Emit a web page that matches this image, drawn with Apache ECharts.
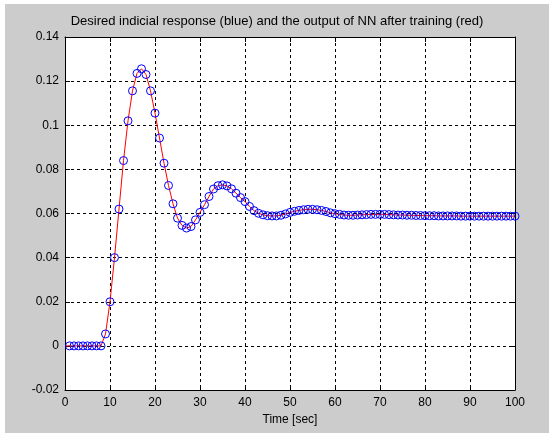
<!DOCTYPE html>
<html>
<head>
<meta charset="utf-8">
<script src="https://cdn.jsdelivr.net/npm/echarts@6/dist/echarts.min.js"></script>
<style>
html,body{margin:0;padding:0;background:#ffffff;}
#c{width:549px;height:433px;}
</style>
</head>
<body>
<div id="c"></div>
<script>
// Time samples (sec)
var times = [];
for (var i = 0; i <= 100; i++) times.push(i);

// Output values, t = 0..100
var response = [
  0, 0, 0, 0, 0, 0, 0, 0, 0, 0.0054,
  0.020, 0.040, 0.062, 0.084, 0.102, 0.1156, 0.1235, 0.1256, 0.1230, 0.1156,
  0.1055, 0.0942, 0.0828, 0.0727, 0.0644, 0.0579, 0.0546, 0.0534, 0.0541, 0.0571,
  0.0605, 0.0640, 0.0677, 0.0711, 0.0726, 0.0730, 0.0725, 0.0712, 0.0692, 0.0672,
  0.0654, 0.0632, 0.0613, 0.0601, 0.0594, 0.0590, 0.0589, 0.0589, 0.0592, 0.0598,
  0.0605, 0.0610, 0.0614, 0.0617, 0.0619, 0.0619, 0.0617, 0.0614, 0.0609, 0.0603,
  0.0599, 0.0596, 0.0593, 0.0592, 0.0592, 0.0593, 0.0594, 0.0595, 0.0596, 0.0596,
  0.0596, 0.0596, 0.0595, 0.0594, 0.0593, 0.0593, 0.0592, 0.0592, 0.0591, 0.0591,
  0.0590, 0.0590, 0.0590, 0.0589, 0.0589, 0.0589, 0.0589, 0.0589, 0.0588, 0.0588,
  0.0588, 0.0588, 0.0588, 0.0588, 0.0588, 0.0588, 0.0588, 0.0588, 0.0588, 0.0588,
  0.0588
];

var yTickLabels = ['-0.02', '0', '0.02', '0.04', '0.06', '0.08', '0.1', '0.12', '0.14'];
var xTickLabels = ['0', '10', '20', '30', '40', '50', '60', '70', '80', '90', '100'];

var titleText = 'Desired indicial response (blue) and the output of NN after training (red)';
var xAxisName = 'Time [sec]';

var lineData = times.map(function (t, i) { return [t, response[i]]; });
var markerData = lineData.slice(1);

var font = 'Liberation Sans, Arial, Helvetica, sans-serif';

var chart = echarts.init(document.getElementById('c'));
var gridLine = {show: true, lineStyle: {color: '#000', type: [3, 3], width: 1}};
chart.setOption({
  backgroundColor: '#ffffff',
  animation: false,
  graphic: [{
    type: 'rect', z: -10, silent: true,
    shape: {x: 5, y: 4, width: 544, height: 429},
    style: {fill: '#cccccc'}
  }, {
    type: 'text', z: 10, x: 277, y: 21,
    style: {text: titleText, fill: '#000', font: '13px ' + font, textAlign: 'center', textVerticalAlign: 'middle'}
  }],
  grid: {left: 65, right: 34, top: 37, bottom: 43, show: true, backgroundColor: '#ffffff', borderWidth: 0},
  xAxis: [{
    type: 'value', min: 0, max: 100, interval: 10,
    name: xAxisName, nameLocation: 'middle', nameGap: 22,
    nameTextStyle: {color: '#000', fontSize: 12, fontFamily: font},
    axisLine: {show: true, onZero: false, lineStyle: {color: '#000', width: 1}},
    axisTick: {show: true, inside: true, length: 5, lineStyle: {color: '#000'}},
    axisLabel: {color: '#000', fontSize: 12, fontFamily: font, margin: 7,
      formatter: function (v) { return xTickLabels[Math.round(v / 10)]; }},
    splitLine: gridLine
  }, {
    type: 'value', min: 0, max: 100, interval: 10, position: 'top',
    axisLine: {show: true, onZero: false, lineStyle: {color: '#000', width: 1}},
    axisTick: {show: true, inside: true, length: 5, lineStyle: {color: '#000'}},
    axisLabel: {show: false}, splitLine: {show: false}
  }],
  yAxis: [{
    type: 'value', min: -0.02, max: 0.14, interval: 0.02,
    axisLine: {show: true, onZero: false, lineStyle: {color: '#000', width: 1}},
    axisTick: {show: true, inside: true, length: 5, lineStyle: {color: '#000'}},
    axisLabel: {color: '#000', fontSize: 12, fontFamily: font, margin: 6,
      formatter: function (v) { return yTickLabels[Math.round((v + 0.02) / 0.02)]; }},
    splitLine: gridLine
  }, {
    type: 'value', min: -0.02, max: 0.14, interval: 0.02, position: 'right',
    axisLine: {show: true, onZero: false, lineStyle: {color: '#000', width: 1}},
    axisTick: {show: true, inside: true, length: 5, lineStyle: {color: '#000'}},
    axisLabel: {show: false}, splitLine: {show: false}
  }],
  series: [{
    type: 'line', data: lineData, showSymbol: false, symbol: 'none',
    lineStyle: {color: '#ff0000', width: 1}, z: 3
  }, {
    type: 'scatter', data: markerData, symbol: 'circle', symbolSize: 8,
    itemStyle: {color: 'rgba(0,0,0,0)', borderColor: '#0000ff', borderWidth: 1, opacity: 1},
    z: 4
  }]
});
</script>
</body>
</html>
